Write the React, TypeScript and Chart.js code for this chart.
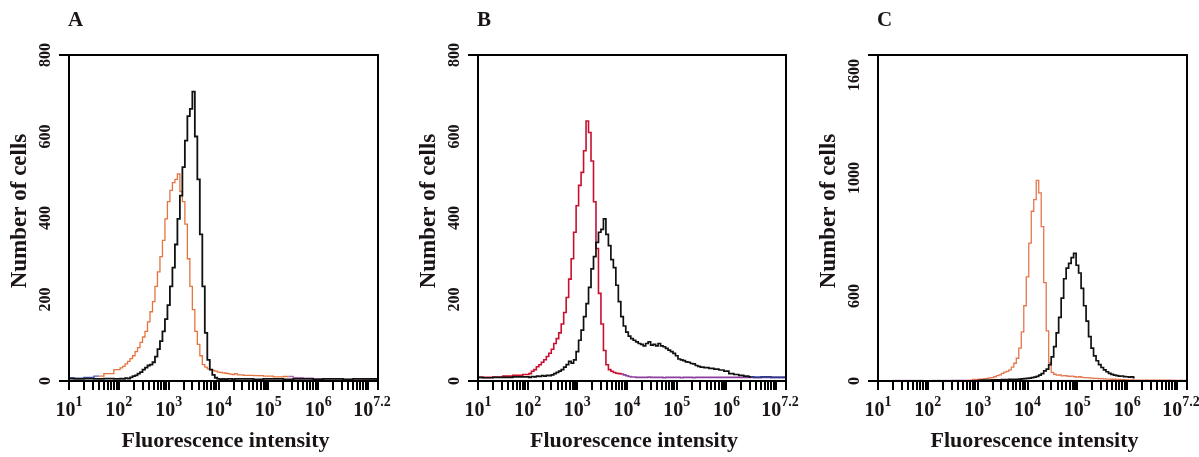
import React, { useEffect, useRef } from 'react';
import { Chart, registerables } from 'chart.js';

Chart.register(...registerables);

const SERIF = '"Liberation Serif", "Times New Roman", Times, serif';

// ---------- axis data ----------
const X_LABEL_EXPONENTS = [1, 2, 3, 4, 5, 6, 7.2];
const X_LABEL_SUPERSCRIPTS = ['1', '2', '3', '4', '5', '6', '7.2'];
const X_TICK_DECADES = [1, 2, 3, 4, 5, 6];
const X_TICK_MULTIPLIERS = [1, 2, 3, 4, 5, 6, 7, 8, 9];
const X_TICK_EXTRA_EXPONENTS = [7, 7.2];
const X_MIN_EXP = 1;
const X_MAX_EXP = 7.2;

const AB_Y_TICK_VALUES = [0, 200, 400, 600, 800];
const AB_Y_TICK_LABELS = ['0', '200', '400', '600', '800'];
const C_Y_TICK_VALUES = [0, 441, 1052, 1586];
const C_Y_TICK_LABELS = ['0', '600', '1000', '1600'];
const AB_Y_MAX = 800;
const C_Y_MAX = 1690;

// ---------- panel A (log10 fluorescence channel, counts) ----------
const A_EXP = [
  1.0, 1.2, 1.4, 1.6, 1.8,
  2.0, 2.05, 2.1, 2.15, 2.2, 2.25, 2.3, 2.35, 2.4, 2.45,
  2.5, 2.55, 2.6, 2.65, 2.7, 2.75, 2.8, 2.85, 2.9, 2.95,
  3.0, 3.05, 3.1, 3.15, 3.2, 3.25, 3.3, 3.35, 3.4, 3.45,
  3.5, 3.55, 3.6, 3.65, 3.7, 3.75, 3.8, 3.85, 3.9, 3.95,
  4.0, 4.05, 4.1, 4.15, 4.2, 4.25, 4.3, 4.35, 4.4,
  4.6, 4.8, 5.0, 5.2, 5.4, 5.6, 5.8, 6.0, 6.2, 6.4, 6.6, 6.8, 7.0, 7.2,
];
const A_BLACK = [
  6, 5, 6, 5, 6,
  5, 6, 5, 7, 6, 9, 12, 14, 18, 22,
  28, 33, 38, 40, 46, 60, 78, 98, 122, 152,
  186, 232, 278, 335, 398, 455, 525, 590, 650, 668,
  710, 600, 495, 360, 232, 118, 52, 28, 15, 8,
  5, 4, 5, 4, 5, 5, 4, 5, 5,
  5, 4, 5, 5, 4, 5, 5, 4, 5, 5, 4, 5, 5, 5,
];
const A_ORANGE = [
  8, 7, 9, 12, 18,
  28, 32, 36, 42, 48, 55, 62, 72, 82, 95,
  108, 122, 145, 170, 195, 232, 268, 305, 345, 398,
  440, 468, 487, 495, 508, 465, 440, 385, 300, 232,
  175, 122, 90, 62, 40, 34, 30, 28, 26, 24,
  22, 21, 20, 19, 18, 17, 16, 18, 15,
  14, 13, 12, 10, 11, 8, 7, 6, 5, 5, 4, 5, 4, 4,
];

// ---------- panel B ----------
const B_EXP = [
  1.0, 1.2, 1.4, 1.6, 1.8,
  2.0, 2.05, 2.1, 2.15, 2.2, 2.25, 2.3, 2.35, 2.4, 2.45,
  2.5, 2.55, 2.6, 2.65, 2.7, 2.75, 2.8, 2.85, 2.9, 2.95,
  3.0, 3.05, 3.1, 3.15, 3.2, 3.25, 3.3, 3.35, 3.4, 3.45,
  3.5, 3.55, 3.6, 3.65, 3.7, 3.75, 3.8, 3.85, 3.9, 3.95,
  4.0, 4.05, 4.1, 4.15, 4.2, 4.25, 4.3, 4.35, 4.4, 4.45,
  4.5, 4.55, 4.6, 4.65, 4.7, 4.75, 4.8, 4.85, 4.9, 4.95,
  5.0, 5.05, 5.1, 5.15, 5.2, 5.25, 5.3, 5.35, 5.4, 5.45,
  5.5,
  5.6, 5.7, 5.8, 5.9, 6.0, 6.1, 6.2, 6.3, 6.4, 6.5, 6.6,
  6.8, 7.0, 7.2,
];
const B_BLACK = [
  9, 8, 9, 9, 10,
  10, 9, 11, 10, 12, 11, 13, 12, 14, 13,
  15, 18, 21, 24, 28, 34, 40, 48, 44, 52,
  72, 100, 125, 158, 190, 230, 275, 305, 340, 365,
  372, 398, 360, 332, 298, 278, 235, 195, 158, 135,
  120, 110, 104, 100, 96, 92, 90, 86, 92, 96,
  88, 90, 86, 92, 86, 84, 80, 76, 72, 68,
  62, 54, 52, 50, 47, 46, 43, 42, 38, 36,
  34,
  33, 31, 29, 27, 24, 18, 16, 14, 12, 10, 9,
  10, 9, 9,
];
const B_RED = [
  9, 9, 10, 12, 14,
  16, 18, 24, 28, 35, 40, 46, 52, 60, 68,
  78, 92, 104, 118, 140, 168, 205, 250, 300, 365,
  430, 480, 512, 565, 638, 610, 540, 440, 325, 215,
  140, 75, 40, 28, 24, 21, 19, 18, 17, 15,
  13, 11, 10, 10, 9, 9, 9, 9, 9, 10,
  9, 9, 9, 9, 9, 8, 9, 9, 9, 9,
  9, 9, 8, 9, 9, 9, 9, 8, 9, 9,
  9,
  9, 9, 9, 9, 9, 9, 9, 9, 9, 9, 9,
  9, 9, 9,
];

// ---------- panel C ----------
const C_EXP = [
  1.0, 1.2, 1.4, 1.6, 1.8, 2.0, 2.2, 2.4, 2.6, 2.8, 3.0,
  3.05, 3.1, 3.15, 3.2, 3.25, 3.3, 3.35, 3.4, 3.45, 3.5,
  3.55, 3.6, 3.65, 3.7, 3.75, 3.8, 3.85, 3.9, 3.95, 4.0,
  4.05, 4.1, 4.15, 4.2, 4.25, 4.3, 4.35, 4.4, 4.45, 4.5,
  4.55, 4.6, 4.65, 4.7, 4.75, 4.8, 4.85, 4.9, 4.95, 5.0,
  5.05, 5.1, 5.15, 5.2, 5.25, 5.3, 5.35, 5.4, 5.45, 5.5,
  5.55, 5.6, 5.65, 5.7, 5.75, 5.8, 5.85, 5.9, 5.95, 6.0,
  6.05, 6.1, 6.15, 6.2,
  6.4, 6.6, 6.8, 7.0, 7.2,
];
const C_BLACK = [
  null, null, null, null, null, null, null, null, null, null, 4,
  4, 5, 5, 5, 5, 6, 6, 6, 6, 7,
  7, 7, 8, 8, 9, 9, 10, 11, 12, 14,
  15, 18, 20, 24, 30, 38, 52, 62, 85, 125,
  178, 250, 330, 430, 530, 585, 610, 640, 662, 600,
  560, 480, 390, 310, 230, 170, 130, 105, 85, 70,
  58, 48, 40, 34, 30, 28, 25, 26, 23, 22,
  20, 21, 18, null,
  null, null, null, null, null,
];
const C_ORANGE = [
  2, 2, 3, 3, 3, 2, 3, 3, 4, 5, 8,
  9, 10, 12, 13, 16, 18, 22, 28, 32, 40,
  46, 50, 58, 72, 92, 118, 170, 255, 390, 540,
  715, 880, 940, 1040, 975, 800, 510, 260, 95, 45,
  35, 30, 31, 27, 28, 26, 24, 25, 22, 20,
  22, 19, 18, 18, 16, 15, 14, 14, 12, 12,
  11, 10, 10, 9, 9, 8, 8, 7, 7, 6,
  6, 6, 5, 5,
  5, 4, 4, 3, 3,
];
const C_GRAY_EXP = [2.9, 7.2];
const C_GRAY = [3, 3];

type Series = {
  exp: number[];
  values: (number | null)[];
  color: string;
  width: number;
  segment?: (x: number) => string | undefined;
};

type Panel = {
  letter: string;
  left: number;
  width: number;
  padLeft: number;
  padRight: number;
  yMax: number;
  yTickValues: number[];
  yTickLabels: string[];
  series: Series[];
};

const PANELS: Panel[] = [
  {
    letter: 'A', left: 0, width: 400, padLeft: 69, padRight: 22,
    yMax: AB_Y_MAX, yTickValues: AB_Y_TICK_VALUES, yTickLabels: AB_Y_TICK_LABELS,
    series: [
      { exp: A_EXP, values: A_BLACK, color: '#111111', width: 1.8 },
      {
        exp: A_EXP, values: A_ORANGE, color: '#e6743e', width: 1.3,
        segment: (x) => (x < Math.pow(10, 1.5) ? '#4a5cb0' : x >= Math.pow(10, 5.4) ? '#b06ab8' : undefined),
      },
    ],
  },
  {
    letter: 'B', left: 400, width: 400, padLeft: 78, padRight: 14,
    yMax: AB_Y_MAX, yTickValues: AB_Y_TICK_VALUES, yTickLabels: AB_Y_TICK_LABELS,
    series: [
      {
        exp: B_EXP, values: B_BLACK, color: '#111111', width: 1.7,
        segment: (x) => (x >= Math.pow(10, 6.5) ? '#2c3c8c' : undefined),
      },
      {
        exp: B_EXP, values: B_RED, color: '#c8102e', width: 1.6,
        segment: (x) => (x >= Math.pow(10, 3.9) ? '#8e3f9e' : undefined),
      },
    ],
  },
  {
    letter: 'C', left: 800, width: 399, padLeft: 78, padRight: 12,
    yMax: C_Y_MAX, yTickValues: C_Y_TICK_VALUES, yTickLabels: C_Y_TICK_LABELS,
    series: [
      { exp: C_EXP, values: C_BLACK, color: '#111111', width: 1.7 },
      {
        exp: C_EXP, values: C_ORANGE, color: '#e57650', width: 1.3,
        segment: (x) => (x < Math.pow(10, 2.7) ? '#c88ac8' : undefined),
      },
      { exp: C_GRAY_EXP, values: C_GRAY, color: '#cfcfcf', width: 1.2 },
    ],
  },
];

const X_TICK_VALUES: number[] = [
  ...X_TICK_DECADES.flatMap((d) => X_TICK_MULTIPLIERS.map((m) => m * Math.pow(10, d))),
  ...X_TICK_EXTRA_EXPONENTS.map((e) => Math.pow(10, e)),
];

function makeTextPlugin(panel: Panel) {
  return {
    id: 'panelText' + panel.letter,
    afterDraw(chart: any) {
      const { ctx, chartArea: ca, scales } = chart;
      const xs = scales.x;
      const ys = scales.y;
      ctx.save();
      // frame
      ctx.strokeStyle = '#000';
      ctx.lineWidth = 2;
      ctx.strokeRect(ca.left, ca.top, ca.right - ca.left, ca.bottom - ca.top);

      ctx.fillStyle = '#1a1414';
      ctx.textBaseline = 'alphabetic';

      // panel letter
      ctx.font = `bold 21px ${SERIF}`;
      ctx.textAlign = 'left';
      ctx.fillText(panel.letter, ca.left - 1, 26);

      // x tick labels: 10^n
      X_LABEL_EXPONENTS.forEach((e, i) => {
        const px = xs.getPixelForValue(Math.pow(10, e));
        ctx.font = `bold 20px ${SERIF}`;
        const wb = ctx.measureText('10').width;
        ctx.font = `bold 14px ${SERIF}`;
        const sup = X_LABEL_SUPERSCRIPTS[i];
        const ws = ctx.measureText(sup).width;
        const shift = i === X_LABEL_EXPONENTS.length - 1 ? -6 : 0;
        const x0 = px - (wb + ws) / 2 + shift;
        ctx.textAlign = 'left';
        ctx.font = `bold 20px ${SERIF}`;
        ctx.fillText('10', x0, 416);
        ctx.font = `bold 14px ${SERIF}`;
        ctx.fillText(sup, x0 + wb, 406);
      });

      // x title
      ctx.font = `bold 22px ${SERIF}`;
      ctx.textAlign = 'center';
      ctx.fillText('Fluorescence intensity', (ca.left + ca.right) / 2 + 2, 447);

      // y tick labels (rotated)
      ctx.font = `bold 16px ${SERIF}`;
      panel.yTickValues.forEach((v, i) => {
        const py = ys.getPixelForValue(v);
        ctx.save();
        ctx.translate(ca.left - 19, py);
        ctx.rotate(-Math.PI / 2);
        ctx.textAlign = 'center';
        ctx.fillText(panel.yTickLabels[i], 0, 0);
        ctx.restore();
      });

      // y title
      ctx.save();
      ctx.translate(ca.left - 43, 211);
      ctx.rotate(-Math.PI / 2);
      ctx.font = `bold 23px ${SERIF}`;
      ctx.textAlign = 'center';
      ctx.fillText('Number of cells', 0, 0);
      ctx.restore();

      ctx.restore();
    },
  };
}

function PanelChart({ panel }: { panel: Panel }) {
  const ref = useRef<HTMLCanvasElement | null>(null);
  useEffect(() => {
    if (!ref.current) return;
    const chart = new Chart(ref.current, {
      type: 'line',
      data: {
        datasets: panel.series.map((s) => ({
          data: s.exp.map((e, i) => ({ x: Math.pow(10, e), y: s.values[i] })),
          borderColor: s.color,
          borderWidth: s.width,
          pointRadius: 0,
          stepped: 'middle',
          fill: false,
          spanGaps: false,
          segment: s.segment
            ? { borderColor: (c: any) => s.segment!(c.p0.parsed.x) }
            : undefined,
        })) as any,
      },
      options: {
        animation: false,
        responsive: false,
        events: [],
        layout: { padding: { left: panel.padLeft, right: panel.padRight, top: 55, bottom: 76 } },
        plugins: { legend: { display: false }, tooltip: { enabled: false }, title: { display: false } },
        scales: {
          x: {
            type: 'logarithmic',
            min: Math.pow(10, X_MIN_EXP),
            max: Math.pow(10, X_MAX_EXP),
            position: 'bottom',
            afterBuildTicks: (s: any) => {
              s.ticks = X_TICK_VALUES.map((v) => ({ value: v }));
            },
            afterFit: (s: any) => {
              s.height = 0;
            },
            ticks: { display: false },
            grid: {
              display: true,
              drawOnChartArea: false,
              drawTicks: true,
              tickLength: 9,
              color: '#000',
              lineWidth: 2,
            },
            border: { display: true, color: '#000', width: 2 },
          },
          y: {
            type: 'linear',
            min: 0,
            max: panel.yMax,
            afterBuildTicks: (s: any) => {
              s.ticks = [{ value: 0 }, { value: panel.yMax }];
            },
            afterFit: (s: any) => {
              s.width = 0;
            },
            ticks: { display: false },
            grid: {
              display: true,
              drawOnChartArea: false,
              drawTicks: true,
              tickLength: 10,
              color: '#000',
              lineWidth: 2,
            },
            border: { display: true, color: '#000', width: 2 },
          },
        },
      } as any,
      plugins: [makeTextPlugin(panel)],
    });
    return () => chart.destroy();
  }, [panel]);

  return (
    <canvas
      ref={ref}
      width={panel.width}
      height={457}
      style={{ position: 'absolute', left: panel.left, top: 0, width: panel.width, height: 457 }}
    />
  );
}

export default function App() {
  return (
    <div style={{ position: 'absolute', left: 0, top: 0, width: 1199, height: 457, background: '#ffffff', overflow: 'hidden' }}>
      {PANELS.map((p) => (
        <PanelChart key={p.letter} panel={p} />
      ))}
    </div>
  );
}
